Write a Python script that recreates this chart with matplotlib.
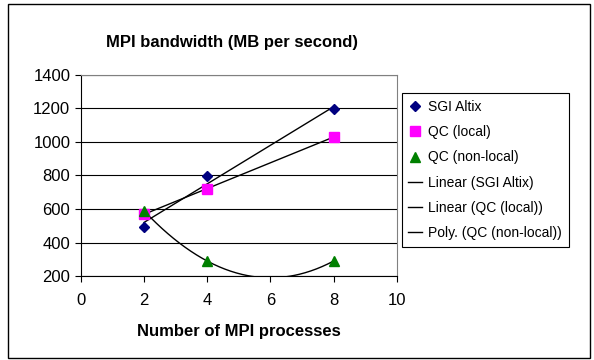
import numpy as np
import matplotlib
matplotlib.use("Agg")
import matplotlib.pyplot as plt
from matplotlib.patches import Rectangle

plt.rcParams['font.family'] = ['Liberation Sans', 'DejaVu Sans']

procs = [2, 4, 8]
sgi_altix = [490, 795, 1195]
qc_local = [570, 720, 1030]
qc_nonlocal = [590, 290, 290]

fig = plt.figure(figsize=(5.94, 3.6), dpi=100)
fig.patch.set_facecolor('white')
# outer chart border
fig.add_artist(Rectangle((0.013, 0.005), 0.98, 0.983, transform=fig.transFigure,
                         fill=False, edgecolor='black', linewidth=1.0))

ax = fig.add_axes([0.136, 0.233, 0.532, 0.559])

ax.plot(procs, sgi_altix, 'D', color='#000080', markersize=5, label='SGI Altix', zorder=3)
ax.plot(procs, qc_local, 's', color='#FF00FF', markersize=7, label='QC (local)', zorder=3)
ax.plot(procs, qc_nonlocal, '^', color='#008000', markersize=7, label='QC (non-local)', zorder=3)

# trendlines
xs = np.linspace(min(procs), max(procs), 200)
p1 = np.polyfit(procs, sgi_altix, 1)
p2 = np.polyfit(procs, qc_local, 1)
p3 = np.polyfit(procs, qc_nonlocal, 2)
ax.plot(xs, np.polyval(p1, xs), color='black', lw=1, label='Linear (SGI Altix)', zorder=2)
ax.plot(xs, np.polyval(p2, xs), color='black', lw=1, label='Linear (QC (local))', zorder=2)
ax.plot(xs, np.polyval(p3, xs), color='black', lw=1, label='Poly. (QC (non-local))', zorder=2)

ax.set_xlim(0, 10)
ax.set_ylim(200, 1400)
ax.set_xticks(range(0, 11, 2))
ax.set_yticks(range(200, 1401, 200))
ax.yaxis.grid(True, color='black', lw=0.8)
ax.set_axisbelow(True)
for s in ['top', 'right']:
    ax.spines[s].set_color('#808080')
ax.tick_params(direction='out', length=4, labelsize=12, colors='black')
ax.tick_params(axis='x', pad=8)

ax.set_title('MPI bandwidth (MB per second)', fontsize=12, fontweight='bold', pad=20, x=0.48)
ax.set_xlabel('Number of MPI processes', fontsize=12, fontweight='bold', labelpad=12)

leg = fig.legend(loc='upper left', bbox_to_anchor=(0.676, 0.741), fontsize=10,
                 fancybox=False, edgecolor='black', framealpha=1, handlelength=1.0,
                 handletextpad=0.4, labelspacing=0.8, borderpad=0.5, borderaxespad=0)
leg.get_frame().set_linewidth(0.8)

fig.savefig('out.png', dpi=100)
